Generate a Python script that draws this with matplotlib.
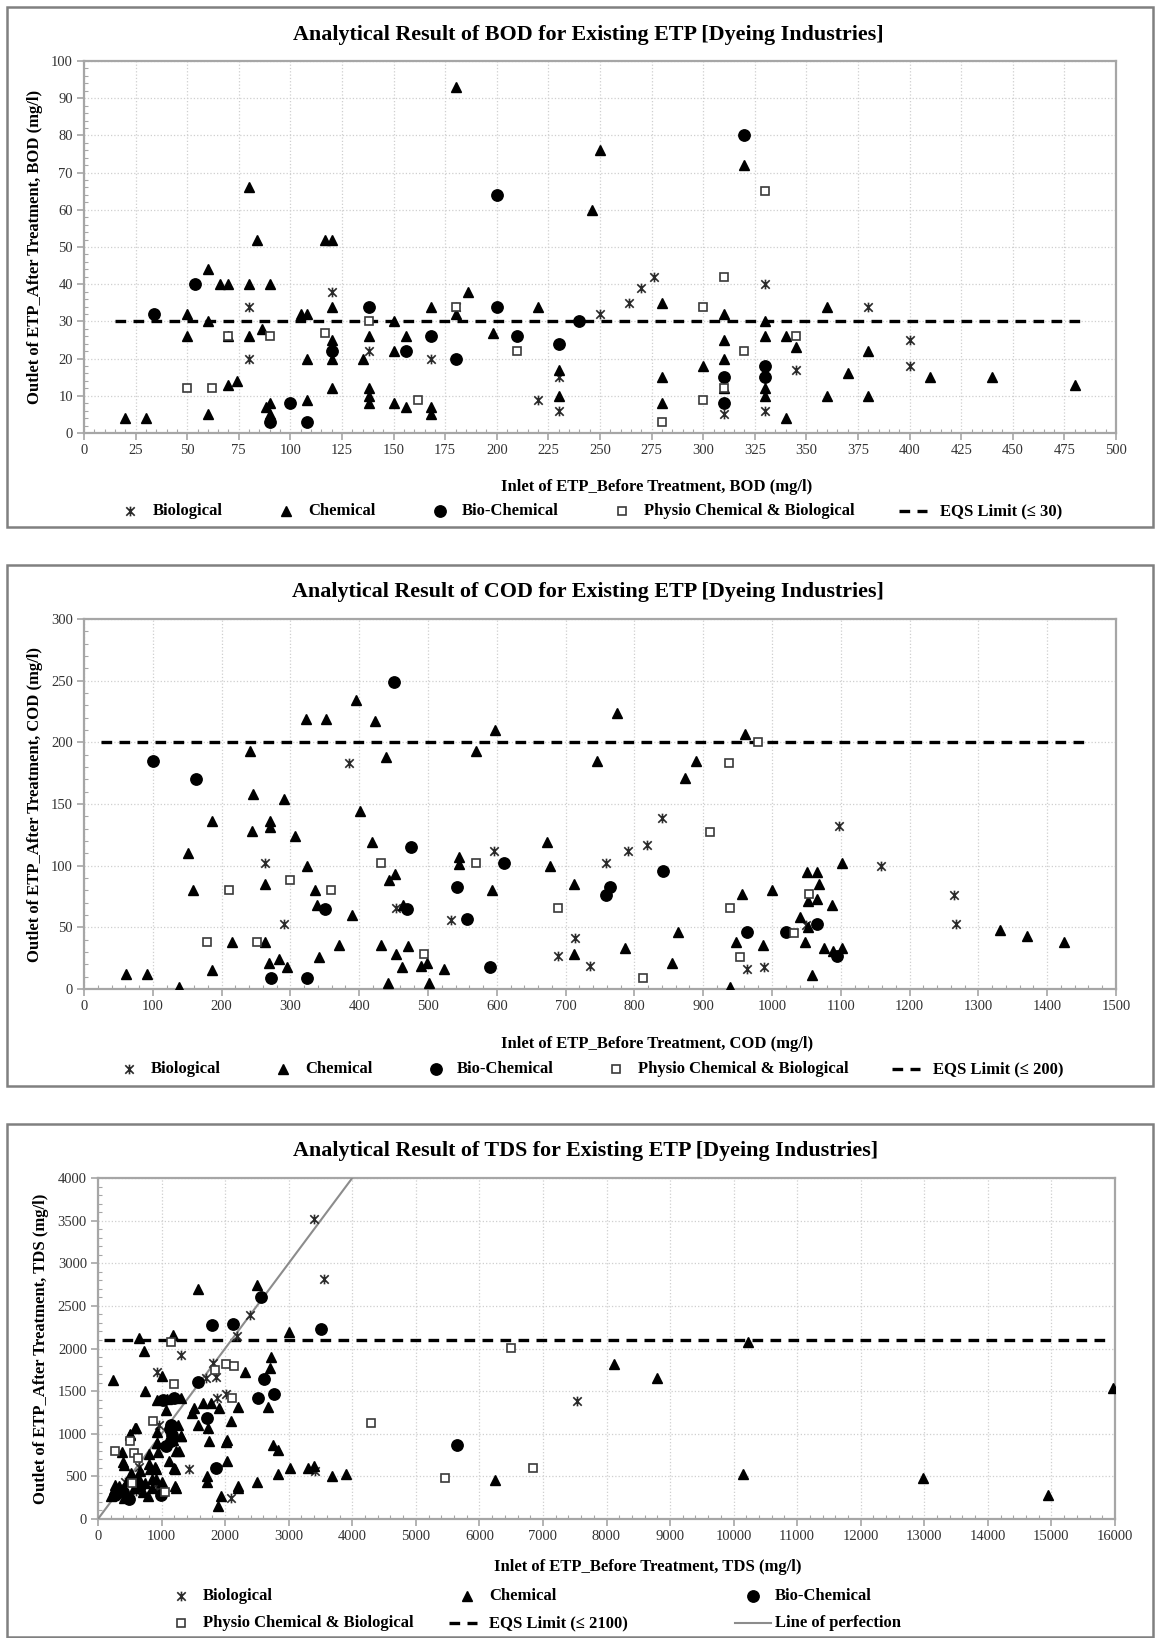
import numpy as np
import matplotlib
matplotlib.use("Agg")
import matplotlib.pyplot as plt
from matplotlib.lines import Line2D
from matplotlib.patches import Rectangle
from matplotlib.path import Path
from matplotlib.ticker import MultipleLocator

# ---------------- BOD data (mg/l) ----------------
bod_bio_x = [80, 80, 120, 138, 168, 180, 220, 230, 230, 250, 264, 270, 276, 310, 330, 330, 345, 380, 400, 400]
bod_bio_y = [34, 20, 38, 22, 20, 34, 9, 15, 6, 32, 35, 39, 42, 5, 40, 6, 17, 34, 25, 18]

bod_chem_x = [20, 30, 50, 50, 60, 60, 60, 66, 70, 70, 70, 74, 80, 80, 80, 84, 86, 88, 90, 90, 90,
              105, 108, 108, 108, 117, 120, 120, 120, 120, 120, 135, 138, 138, 138, 138, 150, 150, 150,
              156, 156, 168, 168, 168, 180, 180, 186, 198, 220, 230, 230, 246, 250, 280, 280, 280, 300,
              310, 310, 310, 310, 320, 330, 330, 330, 330, 340, 340, 345, 360, 360, 370, 380, 380, 410,
              440, 480]
bod_chem_y = [4, 4, 32, 26, 44, 30, 5, 40, 40, 26, 13, 14, 66, 40, 26, 52, 28, 7, 40, 8, 5,
              32, 32, 20, 9, 52, 52, 34, 25, 20, 12, 20, 26, 12, 10, 8, 30, 22, 8,
              26, 7, 34, 7, 5, 93, 32, 38, 27, 34, 17, 10, 60, 76, 35, 15, 8, 18,
              32, 25, 20, 12, 72, 30, 26, 12, 10, 26, 4, 23, 34, 10, 16, 22, 10, 15,
              15, 13]

bod_biochem_x = [34, 54, 90, 100, 108, 120, 138, 156, 168, 180, 200, 200, 210, 230, 240, 310, 310, 320, 330, 330]
bod_biochem_y = [32, 40, 3, 8, 3, 22, 34, 22, 26, 20, 64, 34, 26, 24, 30, 15, 8, 80, 18, 15]

bod_phys_x = [50, 62, 70, 90, 117, 138, 162, 180, 210, 280, 300, 300, 310, 310, 320, 330, 345]
bod_phys_y = [12, 12, 26, 26, 27, 30, 9, 34, 22, 3, 34, 9, 42, 12, 22, 65, 26]

bod_eqs_x = [15, 485]
bod_eqs_y = [30, 30]

# ---------------- COD data (mg/l) ----------------
cod_bio_x = [263, 290, 385, 453, 534, 596, 689, 714, 736, 759, 790, 819, 840, 963, 988, 1049, 1097, 1158, 1265, 1268]
cod_bio_y = [102, 53, 183, 66, 56, 112, 27, 41, 19, 102, 112, 117, 139, 16, 18, 52, 132, 100, 76, 53]

cod_chem_x = [61, 91, 138, 151, 158, 186, 186, 215, 242, 246, 244, 263, 263, 269, 271, 271, 283, 290, 295,
              306, 322, 324, 336, 339, 341, 352, 371, 389, 395, 401, 419, 423, 432, 439, 442, 443, 452,
              454, 462, 463, 471, 490, 498, 502, 523, 545, 545, 570, 593, 598, 673, 678, 712, 712, 746,
              775, 786, 854, 864, 873, 890, 939, 948, 956, 961, 987, 1000, 1041, 1048, 1051, 1053, 1053,
              1058, 1066, 1068, 1066, 1075, 1087, 1089, 1102, 1102, 1332, 1371, 1424]
cod_chem_y = [12, 12, 2, 110, 80, 136, 15, 38, 193, 158, 128, 85, 38, 21, 136, 131, 24, 154, 18,
              124, 219, 100, 80, 68, 26, 219, 36, 60, 234, 144, 119, 217, 36, 188, 5, 88, 93,
              28, 18, 68, 35, 19, 21, 5, 16, 107, 101, 193, 80, 210, 119, 100, 85, 28, 185,
              224, 33, 21, 46, 171, 185, 2, 38, 77, 207, 36, 80, 58, 38, 95, 71, 50,
              11, 95, 85, 73, 33, 68, 31, 33, 102, 48, 43, 38]

cod_biochem_x = [101, 163, 272, 324, 351, 451, 470, 476, 542, 557, 590, 611, 759, 764, 841, 963, 1020, 1066, 1094]
cod_biochem_y = [185, 170, 9, 9, 65, 249, 65, 115, 83, 57, 18, 102, 76, 83, 96, 46, 46, 53, 27]

cod_phys_x = [179, 211, 251, 300, 359, 432, 494, 570, 689, 813, 910, 937, 939, 954, 980, 1032, 1054]
cod_phys_y = [38, 80, 38, 88, 80, 102, 28, 102, 66, 9, 127, 183, 66, 26, 200, 45, 77]

cod_eqs_x = [25, 1460]
cod_eqs_y = [200, 200]

# ---------------- TDS data (mg/l) ----------------
tds_bio_x = [3404, 3554, 2392, 2187, 1307, 934, 1807, 1855, 1705, 2018, 1880, 1434, 2090, 3416, 964, 934,
             7530, 648, 948, 420, 600]
tds_bio_y = [3521, 2810, 2393, 2151, 1919, 1721, 1831, 1664, 1655, 1467, 1423, 588, 241, 558, 1107, 360,
             1383, 615, 373, 430, 330]

tds_chem_x = [229, 651, 723, 735, 1187, 1012, 1566, 2500, 3012, 2319, 2723, 2711, 2681, 2199, 2096, 1506,
              1476, 1657, 1777, 1898, 1566, 1735, 1747, 2018, 2036, 2036, 2753, 2831, 2831, 3024, 3301,
              3404, 3687, 3898, 2500, 2199, 2199, 1928, 1886, 1717, 1717, 1223, 1313, 1235, 1205, 1114,
              922, 904, 813, 801, 584, 500, 380, 410, 398, 6253, 1313, 1084, 934, 1066, 922, 1175, 1265,
              8120, 8795, 10230, 10140, 12980, 14940, 15970,
              211, 271, 331, 404, 572, 633, 705, 783, 843, 843, 633, 452, 524, 663, 741, 1000, 907, 596,
              508, 1306, 948, 933, 1192, 1269, 803, 907, 1218]
tds_chem_y = [1633, 2125, 1976, 1502, 2160, 1677, 2696, 2740, 2195, 1721, 1897, 1774, 1317, 1313, 1150, 1304,
              1238, 1357, 1357, 1304, 1098, 1071, 918, 909, 931, 676, 865, 808, 527, 593, 593,
              623, 501, 523, 439, 391, 360, 272, 149, 501, 439, 369, 975, 799, 588, 681,
              887, 610, 588, 764, 1071, 997, 790, 632, 667, 457, 1414, 1405, 1392, 1282, 1019, 931, 1107,
              1820, 1657, 2075, 523, 479, 281, 1534,
              272, 404, 382, 250, 360, 404, 316, 272, 360, 470, 492, 448, 536, 558, 426, 431, 469, 1065,
              988, 977, 785, 892, 600, 800, 642, 592, 385]

tds_biochem_x = [2572, 1789, 2127, 3512, 2608, 1578, 2512, 2771, 1717, 1849, 5651, 1193, 1024, 1066, 1145,
                 994, 482, 271, 663, 392, 1140, 1166, 1155]
tds_biochem_y = [2608, 2270, 2292, 2226, 1642, 1611, 1423, 1471, 1181, 602, 865, 1423, 1392, 856, 1098,
                 281, 237, 281, 382, 316, 1054, 988, 912]

tds_phys_x = [1145, 1193, 1837, 2006, 2139, 2108, 861, 500, 271, 572, 633, 542, 1054, 4295, 5464, 6837, 6494]
tds_phys_y = [2081, 1589, 1752, 1818, 1800, 1414, 1150, 918, 799, 777, 711, 426, 316, 1128, 483, 593, 2002]

tds_eqs_x = [100, 15950]
tds_eqs_y = [2100, 2100]
perfect_x = [0, 4000]
perfect_y = [0, 4000]

# ---------------- styles ----------------
W, H = 1156, 1638
plt.rcParams['font.family'] = ['Liberation Serif', 'DejaVu Serif']

star = Path([(-1, -1), (1, 1), (-1, 1), (1, -1), (0, -1.15), (0, 1.15)],
            [Path.MOVETO, Path.LINETO, Path.MOVETO, Path.LINETO, Path.MOVETO, Path.LINETO])

STY = {
    "bio": dict(marker=star, markersize=7.0, markeredgecolor="#2a2a2a", markerfacecolor="none",
                markeredgewidth=1.2, linestyle="none"),
    "chem": dict(marker="^", markersize=7.2, markeredgecolor="black", markerfacecolor="black",
                 linestyle="none"),
    "biochem": dict(marker="o", markersize=8.2, markeredgecolor="black", markerfacecolor="black",
                    linestyle="none"),
    "phys": dict(marker="s", markersize=6.4, markeredgecolor="#3a3a3a", markerfacecolor="white",
                 markeredgewidth=1.2, linestyle="none"),
}
EQS = dict(color="black", linewidth=2.4, dashes=(3.2, 2.2))
PERF = dict(color="#8c8c8c", linewidth=1.5)

TITLE_FS = 15.8
LABEL_FS = 12
LEGEND_FS = 12


def fx(px):
    return px / W


def fy(py):
    return 1 - py / H


def make_axes(fig, left, right, top, bottom):
    return fig.add_axes([fx(left), fy(bottom), (right - left) / W, (bottom - top) / H])


def style_axes(ax, xmax, xstep, xminor, ymax, ystep, yminor):
    ax.set_xlim(0, xmax)
    ax.set_ylim(0, ymax)
    ax.set_xticks(np.arange(0, xmax + 1, xstep))
    ax.set_yticks(np.arange(0, ymax + 1, ystep))
    ax.xaxis.set_minor_locator(MultipleLocator(xminor))
    ax.yaxis.set_minor_locator(MultipleLocator(yminor))
    ax.grid(True, which="major", color="#cfcfcf", linestyle=":", linewidth=0.9)
    ax.set_axisbelow(True)
    for sp in ax.spines.values():
        sp.set_color("#a6a6a6")
        sp.set_linewidth(1.6)
    ax.tick_params(which="major", direction="out", length=5, width=1.2, color="#a6a6a6",
                   labelsize=10.5, labelcolor="#333333", pad=3)
    ax.tick_params(which="minor", direction="in", length=3, width=0.8, color="#a6a6a6")


def frame(fig, x0, y0, x1, y1):
    fig.add_artist(Rectangle((fx(x0), fy(y1)), (x1 - x0) / W, (y1 - y0) / H, transform=fig.transFigure,
                             fill=False, edgecolor="#808080", linewidth=1.8))


def legend_item(fig, kind, xm, y, xt, label):
    if kind in STY:
        fig.add_artist(Line2D([fx(xm)], [fy(y)], transform=fig.transFigure, **STY[kind]))
    elif kind == "eqs":
        fig.add_artist(Line2D([fx(xm - 14), fx(xm + 14)], [fy(y), fy(y)], transform=fig.transFigure, **EQS))
    else:
        fig.add_artist(Line2D([fx(xm - 18), fx(xm + 18)], [fy(y), fy(y)], transform=fig.transFigure, **PERF))
    fig.text(fx(xt), fy(y), label, ha="left", va="center", fontsize=LEGEND_FS, fontweight="bold")


def draw_series(ax, bio, chem, biochem, phys):
    ax.plot(bio[0], bio[1], zorder=4, **STY["bio"])
    ax.plot(chem[0], chem[1], zorder=4, **STY["chem"])
    ax.plot(biochem[0], biochem[1], zorder=4, **STY["biochem"])
    ax.plot(phys[0], phys[1], zorder=5, **STY["phys"])


fig = plt.figure(figsize=(W / 100, H / 100), dpi=100)

# ---------------- panel 1 : BOD ----------------
frame(fig, 7, 7, 1153, 527)
ax1 = make_axes(fig, 84, 1116, 61, 433)
style_axes(ax1, 500, 25, 5, 100, 10, 2)
ax1.plot(bod_eqs_x, bod_eqs_y, zorder=3, **EQS)
draw_series(ax1, (bod_bio_x, bod_bio_y), (bod_chem_x, bod_chem_y),
            (bod_biochem_x, bod_biochem_y), (bod_phys_x, bod_phys_y))
fig.text(fx(588), fy(35), "Analytical Result of BOD for Existing ETP [Dyeing Industries]",
         ha="center", va="center", fontsize=TITLE_FS, fontweight="bold")
fig.text(fx(657), fy(487), "Inlet of ETP_Before Treatment, BOD (mg/l)", ha="center", va="center",
         fontsize=LABEL_FS, fontweight="bold")
fig.text(fx(35), fy(247), "Outlet of ETP_After Treatment, BOD (mg/l)", ha="center", va="center",
         rotation=90, fontsize=LABEL_FS, fontweight="bold")
legend_item(fig, "bio", 130, 511, 153, "Biological")
legend_item(fig, "chem", 286, 511, 308, "Chemical")
legend_item(fig, "biochem", 440, 511, 462, "Bio-Chemical")
legend_item(fig, "phys", 622, 511, 644, "Physio Chemical & Biological")
legend_item(fig, "eqs", 913, 511, 940, "EQS Limit (\u2264 30)")

# ---------------- panel 2 : COD ----------------
frame(fig, 7, 565, 1153, 1086)
ax2 = make_axes(fig, 84, 1116, 619, 989)
style_axes(ax2, 1500, 100, 20, 300, 50, 10)
ax2.plot(cod_eqs_x, cod_eqs_y, zorder=3, **EQS)
draw_series(ax2, (cod_bio_x, cod_bio_y), (cod_chem_x, cod_chem_y),
            (cod_biochem_x, cod_biochem_y), (cod_phys_x, cod_phys_y))
fig.text(fx(588), fy(592), "Analytical Result of COD for Existing ETP [Dyeing Industries]",
         ha="center", va="center", fontsize=TITLE_FS, fontweight="bold")
fig.text(fx(657), fy(1044), "Inlet of ETP_Before Treatment, COD (mg/l)", ha="center", va="center",
         fontsize=LABEL_FS, fontweight="bold")
fig.text(fx(35), fy(804), "Outlet of ETP_After Treatment, COD (mg/l)", ha="center", va="center",
         rotation=90, fontsize=LABEL_FS, fontweight="bold")
legend_item(fig, "bio", 129, 1069, 151, "Biological")
legend_item(fig, "chem", 283, 1069, 305, "Chemical")
legend_item(fig, "biochem", 436, 1069, 457, "Bio-Chemical")
legend_item(fig, "phys", 616, 1069, 638, "Physio Chemical & Biological")
legend_item(fig, "eqs", 906, 1069, 933, "EQS Limit (\u2264 200)")

# ---------------- panel 3 : TDS ----------------
frame(fig, 7, 1124, 1153, 1637)
ax3 = make_axes(fig, 98, 1115, 1178, 1519)
style_axes(ax3, 16000, 1000, 200, 4000, 500, 100)
ax3.plot(tds_eqs_x, tds_eqs_y, zorder=3, **EQS)
ax3.plot(perfect_x, perfect_y, zorder=3, **PERF)
draw_series(ax3, (tds_bio_x, tds_bio_y), (tds_chem_x, tds_chem_y),
            (tds_biochem_x, tds_biochem_y), (tds_phys_x, tds_phys_y))
fig.text(fx(586), fy(1151), "Analytical Result of TDS for Existing ETP [Dyeing Industries]",
         ha="center", va="center", fontsize=TITLE_FS, fontweight="bold")
fig.text(fx(648), fy(1567), "Inlet of ETP_Before Treatment, TDS (mg/l)", ha="center", va="center",
         fontsize=LABEL_FS, fontweight="bold")
fig.text(fx(41), fy(1349), "Outlet of ETP_After Treatment, TDS (mg/l)", ha="center", va="center",
         rotation=90, fontsize=LABEL_FS, fontweight="bold")
legend_item(fig, "bio", 181, 1596, 203, "Biological")
legend_item(fig, "chem", 467, 1596, 489, "Chemical")
legend_item(fig, "biochem", 753, 1596, 775, "Bio-Chemical")
legend_item(fig, "phys", 181, 1623, 203, "Physio Chemical & Biological")
legend_item(fig, "eqs", 463, 1623, 489, "EQS Limit (\u2264 2100)")
legend_item(fig, "perf", 753, 1623, 775, "Line of perfection")

fig.savefig("out.png", dpi=100, facecolor="white")
